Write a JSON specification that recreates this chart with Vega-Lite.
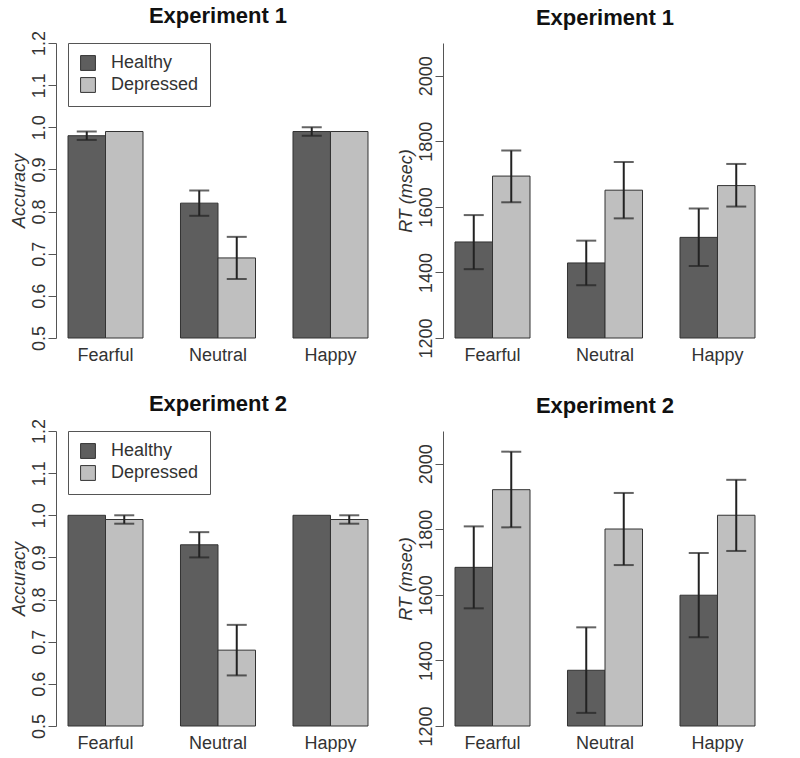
{
  "$schema": "https://vega.github.io/schema/vega-lite/v6.json",
  "padding": {"left": 9, "top": 5, "right": 5, "bottom": 0},
  "background": "white",
  "config": {
    "font": "Liberation Sans",
    "view": {"stroke": null},
    "title": {"fontSize": 22, "fontWeight": "bold", "color": "#111", "anchor": "middle", "frame": "group"},
    "axis": {"labelFont": "Liberation Sans", "labelFontSize": 18, "labelColor": "#333", "domainColor": "#555", "tickColor": "#555", "grid": false}
  },
  "datasets": {
    "rows": [
      {"panel": "acc1", "emotion": "Fearful", "group": "Healthy", "value": 0.98, "lo": 0.97, "hi": 0.99},
      {"panel": "acc1", "emotion": "Fearful", "group": "Depressed", "value": 0.99, "lo": null, "hi": null},
      {"panel": "acc1", "emotion": "Neutral", "group": "Healthy", "value": 0.82, "lo": 0.79, "hi": 0.85},
      {"panel": "acc1", "emotion": "Neutral", "group": "Depressed", "value": 0.69, "lo": 0.64, "hi": 0.74},
      {"panel": "acc1", "emotion": "Happy", "group": "Healthy", "value": 0.99, "lo": 0.98, "hi": 1.0},
      {"panel": "acc1", "emotion": "Happy", "group": "Depressed", "value": 0.99, "lo": null, "hi": null},
      {"panel": "rt1", "emotion": "Fearful", "group": "Healthy", "value": 1493, "lo": 1410, "hi": 1575},
      {"panel": "rt1", "emotion": "Fearful", "group": "Depressed", "value": 1694, "lo": 1614, "hi": 1772},
      {"panel": "rt1", "emotion": "Neutral", "group": "Healthy", "value": 1429, "lo": 1361, "hi": 1497},
      {"panel": "rt1", "emotion": "Neutral", "group": "Depressed", "value": 1651, "lo": 1565, "hi": 1737},
      {"panel": "rt1", "emotion": "Happy", "group": "Healthy", "value": 1507, "lo": 1420, "hi": 1595},
      {"panel": "rt1", "emotion": "Happy", "group": "Depressed", "value": 1665, "lo": 1601, "hi": 1731},
      {"panel": "acc2", "emotion": "Fearful", "group": "Healthy", "value": 1.0, "lo": null, "hi": null},
      {"panel": "acc2", "emotion": "Fearful", "group": "Depressed", "value": 0.99, "lo": 0.98, "hi": 1.0},
      {"panel": "acc2", "emotion": "Neutral", "group": "Healthy", "value": 0.93, "lo": 0.90, "hi": 0.96},
      {"panel": "acc2", "emotion": "Neutral", "group": "Depressed", "value": 0.68, "lo": 0.62, "hi": 0.74},
      {"panel": "acc2", "emotion": "Happy", "group": "Healthy", "value": 1.0, "lo": null, "hi": null},
      {"panel": "acc2", "emotion": "Happy", "group": "Depressed", "value": 0.99, "lo": 0.98, "hi": 1.0},
      {"panel": "rt2", "emotion": "Fearful", "group": "Healthy", "value": 1684, "lo": 1559, "hi": 1809},
      {"panel": "rt2", "emotion": "Fearful", "group": "Depressed", "value": 1921, "lo": 1806, "hi": 2037},
      {"panel": "rt2", "emotion": "Neutral", "group": "Healthy", "value": 1370, "lo": 1240, "hi": 1501},
      {"panel": "rt2", "emotion": "Neutral", "group": "Depressed", "value": 1801, "lo": 1691, "hi": 1911},
      {"panel": "rt2", "emotion": "Happy", "group": "Healthy", "value": 1599, "lo": 1471, "hi": 1728},
      {"panel": "rt2", "emotion": "Happy", "group": "Depressed", "value": 1843, "lo": 1734, "hi": 1951}
    ]
  },
  "resolve": {"legend": {"color": "independent"}},
  "spacing": 29,
  "vconcat": [
    {
      "resolve": {"legend": {"color": "independent"}},
      "spacing": 17,
      "hconcat": [
        {
          "width": 324, "height": 295,
          "title": {"text": "Experiment 1", "offset": 2},
          "data": {"name": "rows"},
          "transform": [{"filter": "datum.panel == 'acc1'"}],
          "encoding": {
            "x": {"field": "emotion", "type": "nominal", "sort": ["Fearful", "Neutral", "Happy"], "scale": {"paddingInner": 0.3333, "paddingOuter": 0.1067}, "axis": {"title": null, "domain": false, "ticks": false, "labelAngle": 0, "labelPadding": 8}},
            "xOffset": {"field": "group", "type": "nominal", "sort": ["Healthy", "Depressed"], "scale": {"paddingInner": 0, "paddingOuter": 0}}
          },
          "layer": [
            {
              "mark": {"type": "bar", "stroke": "#333", "strokeWidth": 1},
              "encoding": {
                "y": {"field": "value", "type": "quantitative", "scale": {"domain": [0.5, 1.2], "nice": false, "zero": false}, "axis": {"title": "Accuracy", "titleFontStyle": "italic", "titleFontWeight": "normal", "titleFontSize": 18, "titleColor": "#333", "titlePadding": 2, "values": [0.5, 0.6, 0.7, 0.8, 0.9, 1.0, 1.1, 1.2], "format": ".1f", "labelAngle": -90, "labelAlign": "center", "labelBaseline": "bottom", "tickSize": 8, "labelPadding": 0}},
                "y2": {"datum": 0.5},
                "color": {"field": "group", "type": "nominal", "scale": {"domain": ["Healthy", "Depressed"], "range": ["#5e5e5e", "#bfbfbf"]}, "legend": {"orient": "none", "legendX": 12, "legendY": 0, "title": null, "labelFontSize": 18, "labelColor": "#333", "symbolType": "square", "symbolSize": 220, "symbolStrokeColor": "#333", "symbolStrokeWidth": 1, "strokeColor": "#555", "padding": 11, "rowPadding": 2, "labelOffset": 14, "fillColor": "white"}}
              }
            },
            {
              "transform": [{"filter": "isValid(datum.lo)"}],
              "mark": {"type": "rule", "color": "#222", "strokeWidth": 2},
              "encoding": {"y": {"field": "lo", "type": "quantitative"}, "y2": {"field": "hi"}}
            },
            {
              "transform": [{"filter": "isValid(datum.lo)"}, {"fold": ["lo", "hi"], "as": ["end", "v"]}],
              "mark": {"type": "tick", "orient": "horizontal", "color": "#222", "size": 20, "thickness": 2},
              "encoding": {"y": {"field": "v", "type": "quantitative"}}
            }
          ]
        },
        {
          "width": 324, "height": 295,
          "title": {"text": "Experiment 1", "offset": 13},
          "data": {"name": "rows"},
          "transform": [{"filter": "datum.panel == 'rt1'"}],
          "encoding": {
            "x": {"field": "emotion", "type": "nominal", "sort": ["Fearful", "Neutral", "Happy"], "scale": {"paddingInner": 0.3333, "paddingOuter": 0.1067}, "axis": {"title": null, "domain": false, "ticks": false, "labelAngle": 0, "labelPadding": 8}},
            "xOffset": {"field": "group", "type": "nominal", "sort": ["Healthy", "Depressed"], "scale": {"paddingInner": 0, "paddingOuter": 0}}
          },
          "layer": [
            {
              "mark": {"type": "bar", "stroke": "#333", "strokeWidth": 1},
              "encoding": {
                "y": {"field": "value", "type": "quantitative", "scale": {"domain": [1200, 2100], "nice": false, "zero": false}, "axis": {"title": "RT (msec)", "titleFontStyle": "italic", "titleFontWeight": "normal", "titleFontSize": 18, "titleColor": "#333", "titlePadding": 2, "values": [1200, 1400, 1600, 1800, 2000], "format": "d", "labelAngle": -90, "labelAlign": "center", "labelBaseline": "bottom", "tickSize": 8, "labelPadding": 0}},
                "y2": {"datum": 1200},
                "color": {"field": "group", "type": "nominal", "scale": {"domain": ["Healthy", "Depressed"], "range": ["#5e5e5e", "#bfbfbf"]}, "legend": null}
              }
            },
            {
              "transform": [{"filter": "isValid(datum.lo)"}],
              "mark": {"type": "rule", "color": "#222", "strokeWidth": 2},
              "encoding": {"y": {"field": "lo", "type": "quantitative"}, "y2": {"field": "hi"}}
            },
            {
              "transform": [{"filter": "isValid(datum.lo)"}, {"fold": ["lo", "hi"], "as": ["end", "v"]}],
              "mark": {"type": "tick", "orient": "horizontal", "color": "#222", "size": 20, "thickness": 2},
              "encoding": {"y": {"field": "v", "type": "quantitative"}}
            }
          ]
        }
      ]
    },
    {
      "resolve": {"legend": {"color": "independent"}},
      "spacing": 17,
      "hconcat": [
        {
          "width": 324, "height": 295,
          "title": {"text": "Experiment 2", "offset": 2},
          "data": {"name": "rows"},
          "transform": [{"filter": "datum.panel == 'acc2'"}],
          "encoding": {
            "x": {"field": "emotion", "type": "nominal", "sort": ["Fearful", "Neutral", "Happy"], "scale": {"paddingInner": 0.3333, "paddingOuter": 0.1067}, "axis": {"title": null, "domain": false, "ticks": false, "labelAngle": 0, "labelPadding": 8}},
            "xOffset": {"field": "group", "type": "nominal", "sort": ["Healthy", "Depressed"], "scale": {"paddingInner": 0, "paddingOuter": 0}}
          },
          "layer": [
            {
              "mark": {"type": "bar", "stroke": "#333", "strokeWidth": 1},
              "encoding": {
                "y": {"field": "value", "type": "quantitative", "scale": {"domain": [0.5, 1.2], "nice": false, "zero": false}, "axis": {"title": "Accuracy", "titleFontStyle": "italic", "titleFontWeight": "normal", "titleFontSize": 18, "titleColor": "#333", "titlePadding": 2, "values": [0.5, 0.6, 0.7, 0.8, 0.9, 1.0, 1.1, 1.2], "format": ".1f", "labelAngle": -90, "labelAlign": "center", "labelBaseline": "bottom", "tickSize": 8, "labelPadding": 0}},
                "y2": {"datum": 0.5},
                "color": {"field": "group", "type": "nominal", "scale": {"domain": ["Healthy", "Depressed"], "range": ["#5e5e5e", "#bfbfbf"]}, "legend": {"orient": "none", "legendX": 12, "legendY": 0, "title": null, "labelFontSize": 18, "labelColor": "#333", "symbolType": "square", "symbolSize": 220, "symbolStrokeColor": "#333", "symbolStrokeWidth": 1, "strokeColor": "#555", "padding": 11, "rowPadding": 2, "labelOffset": 14, "fillColor": "white"}}
              }
            },
            {
              "transform": [{"filter": "isValid(datum.lo)"}],
              "mark": {"type": "rule", "color": "#222", "strokeWidth": 2},
              "encoding": {"y": {"field": "lo", "type": "quantitative"}, "y2": {"field": "hi"}}
            },
            {
              "transform": [{"filter": "isValid(datum.lo)"}, {"fold": ["lo", "hi"], "as": ["end", "v"]}],
              "mark": {"type": "tick", "orient": "horizontal", "color": "#222", "size": 20, "thickness": 2},
              "encoding": {"y": {"field": "v", "type": "quantitative"}}
            }
          ]
        },
        {
          "width": 324, "height": 295,
          "title": {"text": "Experiment 2", "offset": 13},
          "data": {"name": "rows"},
          "transform": [{"filter": "datum.panel == 'rt2'"}],
          "encoding": {
            "x": {"field": "emotion", "type": "nominal", "sort": ["Fearful", "Neutral", "Happy"], "scale": {"paddingInner": 0.3333, "paddingOuter": 0.1067}, "axis": {"title": null, "domain": false, "ticks": false, "labelAngle": 0, "labelPadding": 8}},
            "xOffset": {"field": "group", "type": "nominal", "sort": ["Healthy", "Depressed"], "scale": {"paddingInner": 0, "paddingOuter": 0}}
          },
          "layer": [
            {
              "mark": {"type": "bar", "stroke": "#333", "strokeWidth": 1},
              "encoding": {
                "y": {"field": "value", "type": "quantitative", "scale": {"domain": [1200, 2100], "nice": false, "zero": false}, "axis": {"title": "RT (msec)", "titleFontStyle": "italic", "titleFontWeight": "normal", "titleFontSize": 18, "titleColor": "#333", "titlePadding": 2, "values": [1200, 1400, 1600, 1800, 2000], "format": "d", "labelAngle": -90, "labelAlign": "center", "labelBaseline": "bottom", "tickSize": 8, "labelPadding": 0}},
                "y2": {"datum": 1200},
                "color": {"field": "group", "type": "nominal", "scale": {"domain": ["Healthy", "Depressed"], "range": ["#5e5e5e", "#bfbfbf"]}, "legend": null}
              }
            },
            {
              "transform": [{"filter": "isValid(datum.lo)"}],
              "mark": {"type": "rule", "color": "#222", "strokeWidth": 2},
              "encoding": {"y": {"field": "lo", "type": "quantitative"}, "y2": {"field": "hi"}}
            },
            {
              "transform": [{"filter": "isValid(datum.lo)"}, {"fold": ["lo", "hi"], "as": ["end", "v"]}],
              "mark": {"type": "tick", "orient": "horizontal", "color": "#222", "size": 20, "thickness": 2},
              "encoding": {"y": {"field": "v", "type": "quantitative"}}
            }
          ]
        }
      ]
    }
  ]
}
